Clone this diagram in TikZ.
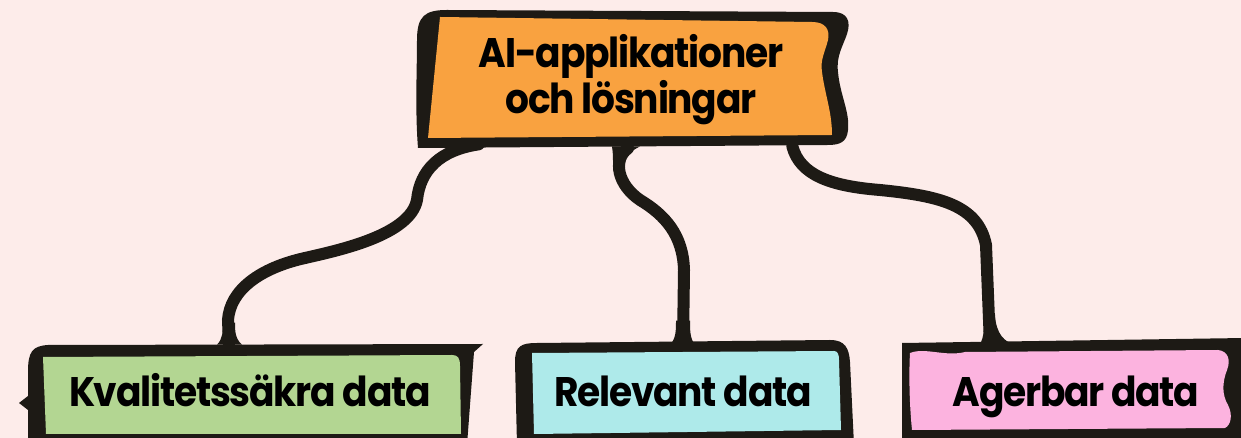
\documentclass[tikz,border=0pt]{standalone}
\usepackage{fontspec}
\newfontfamily\boxfont{Poppins}[LetterSpace=-3.0, FakeStretch=0.91]
\usetikzlibrary{calc,backgrounds}
\definecolor{bgpink}{HTML}{FDECEA}
\definecolor{ink}{HTML}{1D1A15}
\definecolor{aiorange}{HTML}{F9A240}
\definecolor{kvalgreen}{HTML}{B3D692}
\definecolor{relcyan}{HTML}{AEEAEA}
\definecolor{agrpink}{HTML}{FCB3DF}
\tikzset{
boxtext/.style={
	  font={\boxfont\bfseries\fontsize{23.5}{24.5}\selectfont},
	    text=black, inner sep=0pt, align=center},
single/.style={text height=17pt, text depth=6pt,
    minimum height=1.6cm},
conn/.style={draw=ink, line width=0.24cm, line cap=round},
flare/.style={fill=ink}
}

\begin{document}
\begin{tikzpicture}[x=0.02cm, y=-0.02cm]
	\useasboundingbox (0,0) rectangle (1241,438);
	\node[boxtext, minimum width=8cm, minimum height=2.4cm] (ai) at (631,80) {AI-applikationer\\och lösningar};
	\node[boxtext, single, minimum width=8.3cm] (kval) at (250,397) {Kvalitetssäkra data};
	\node[boxtext, single, minimum width=6.1cm] (rel) at (683,397) {Relevant data};
	\node[boxtext, single, minimum width=6.3cm] (agr) at (1076,397) {Agerbar data};
	\coordinate (aiL) at ($(ai.south west)+(48,4)$);
	\coordinate (aiM) at ($(ai.south)+(-3,8)$);
	\coordinate (aiR) at ($(ai.south east)+(-39,6)$);
	\coordinate (kvalT) at ($(kval.north)+(-21,-12)$);
	\coordinate (relT) at ($(rel.north)+(0,-12)$);
	\coordinate (agrT) at ($(agr.north)+(-86,-12)$);
	\begin{scope}[on background layer]
	\fill[bgpink] (0,0) rectangle (1241,438);
	% connectors
	\draw[conn] (aiL) .. controls (440,150) and (420,170) .. (417,200)
		.. controls (410,235) and (340,250) .. (305,258)
		.. controls (260,268) and (230,290) .. (228,320) -- (kvalT);
	\draw[conn] (aiM) .. controls (612,160) and (618,185) .. (640,200)
		.. controls (665,215) and (683,235) .. (684,270) -- (relT);
	\draw[conn] (aiR) .. controls (800,175) and (830,186) .. (880,190)
		.. controls (940,196) and (978,205) .. (986,245) -- (agrT);
	\fill[flare, shift={(kvalT)}] (-12,0) .. controls (-6,-6) and (-6,-14) .. (-6,-22)
		-- (6,-22) .. controls (6,-14) and (6,-6) .. (13,0) -- cycle;
	\fill[flare, shift={(relT)}] (-13,0) .. controls (-7,-6) and (-7,-14) .. (-7,-24)
		-- (7,-24) .. controls (7,-14) and (7,-6) .. (12,0) -- cycle;
	\fill[flare, shift={(agrT)}] (-10,0) .. controls (-6,-10) .. (-6,-30)
		-- (5,-30) .. controls (6,-10) and (15,-3) .. (24,0) -- cycle;
	\fill[flare, shift={(aiM)}] (-16,-2) .. controls (-15,6) .. (-15,16)
		-- (-3,16) .. controls (-2,6) .. (12,-2) -- cycle;
	% boxes
	\fill[ink] (417,40) .. controls (417,16) and (425,10) .. (447,10) -- (833,12)
		.. controls (848,12) and (851,22) .. (847,34) .. controls (843,46) and (836,56) .. (838,72)
		.. controls (840,95) and (850,112) .. (848,130) .. controls (847,142) and (840,145) .. (828,145)
		-- (418,148) .. controls (415,110) and (417,70) .. (417,40) -- cycle;
	\fill[aiorange] (440,17) -- (812,22) .. controls (826,22) and (830,30) .. (828,40)
		.. controls (825,52) and (820,60) .. (822,72) .. controls (825,95) and (832,112) .. (832,135)
		-- (428,138) -- cycle;
	\fill[ink] (28,372) .. controls (28,352) and (32,346) .. (48,345) -- (483,344) -- (474,352)
		-- (467,445) -- (28,445) -- (28,410) -- (19,403) -- (28,396) -- cycle;
	\fill[kvalgreen] (43,357) -- (452,355) .. controls (458,355) and (460,358) .. (460,366)
		-- (461,434) -- (46,434) -- cycle;
	\fill[ink] (515,362) .. controls (515,346) and (521,343) .. (537,343) -- (830,340)
		.. controls (845,340) and (849,348) .. (850,362) -- (854,445) -- (517,445) -- cycle;
	\fill[relcyan] (532,353) -- (834,351) .. controls (838,351) and (839,355) .. (839,360)
		-- (841,430) -- (534,434) -- cycle;
	\fill[ink] (902,343) -- (1245,338) -- (1245,445) -- (902,445) -- cycle;
	\fill[agrpink] (910,353) .. controls (925,347) and (945,357) .. (965,352) -- (1218,350)
		.. controls (1228,351) and (1231,360) .. (1227,370) .. controls (1222,383) and (1222,395) .. (1228,405)
		.. controls (1233,415) and (1231,425) .. (1225,428) -- (912,430)
		.. controls (909,400) and (909,370) .. (910,353) -- cycle;
	\end{scope}
\end{tikzpicture}
\end{document}
